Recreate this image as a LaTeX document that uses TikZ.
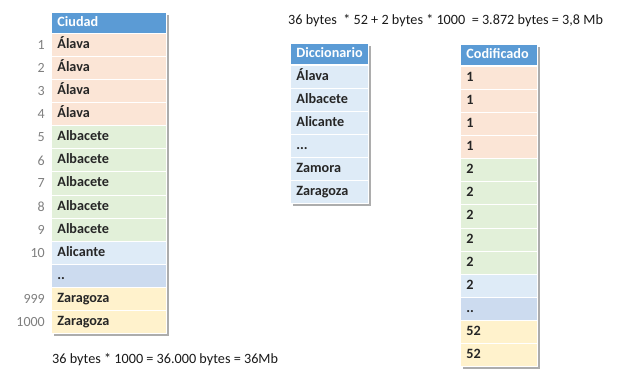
\documentclass[tikz,border=0pt]{standalone}
\usepackage{fontspec}
\setmainfont{Carlito}
\usetikzlibrary{positioning}

\definecolor{hdrblue}{HTML}{5B9BD5}
\definecolor{rowora}{HTML}{FBE5D6}
\definecolor{rowgrn}{HTML}{E2F0D9}
\definecolor{rowblu}{HTML}{DEEBF7}
\definecolor{rowdots}{HTML}{CCDBEF}
\definecolor{rowyel}{HTML}{FFF2CC}
\definecolor{numgray}{HTML}{7F7F7F}
\definecolor{shadegray}{HTML}{ADADAD}

\newcommand{\skipdots}{...}

\tikzset{
  cell/.style={draw=white, line width=0.8pt, anchor=north west, minimum height=23.08pt,
    inner ysep=0pt, inner xsep=6pt, align=left, text height=10pt, text depth=3pt,
    font=\fontsize{14.2}{17}\selectfont\bfseries, text=black!85},
  hdr/.style={cell, fill=hdrblue, text=white, minimum height=21pt},
  rownum/.style={anchor=east, inner sep=0pt, text=numgray, font=\fontsize{14}{17}\selectfont},
  sumtext/.style={anchor=west, inner sep=0pt, font=\fontsize{14.2}{17}\selectfont, text=black!90},
}

\begin{document}
\begin{tikzpicture}[x=1pt,y=-1pt]
\useasboundingbox (0,0) rectangle (621,385);

% Shadows behind the tables
\fill[shadegray] (54,15) rectangle (169,336);
\fill[shadegray] (293,46) rectangle (371,206);
\fill[shadegray] (463,47) rectangle (540,369);

% Ciudad table with row numbers
\node[hdr, text width=103pt] (ciudad) at (51,12) {Ciudad};
\foreach \txt/\col/\num [count=\i] in {
  Álava/rowora/1, Álava/rowora/2, Álava/rowora/3, Álava/rowora/4,
  Albacete/rowgrn/5, Albacete/rowgrn/6, Albacete/rowgrn/7, Albacete/rowgrn/8, Albacete/rowgrn/9,
  Alicante/rowblu/10, ../rowdots/{}, Zaragoza/rowyel/999, Zaragoza/rowyel/1000}{
  \node[cell, fill=\col, text width=103pt] (city\i) at (51,{33+(\i-1)*23.08}) {\txt};
  \node[rownum, left=6pt of city\i] (num\i) {\num};
}

% Diccionario table
\node[hdr, text width=66pt] (dicc) at (290,43) {Diccionario};
\foreach \txt [count=\i] in {Álava, Albacete, Alicante, \skipdots, Zamora, Zaragoza}{
  \node[cell, fill=rowblu, text width=66pt] (dict\i) at (290,{65+(\i-1)*23}) {\txt};
}

% Codificado table
\node[hdr, text width=65pt] (codif) at (460,44) {Codificado};
\foreach \txt/\col [count=\i] in {
  1/rowora, 1/rowora, 1/rowora, 1/rowora,
  2/rowgrn, 2/rowgrn, 2/rowgrn, 2/rowgrn, 2/rowgrn,
  2/rowblu, ../rowdots, 52/rowyel, 52/rowyel}{
  \node[cell, fill=\col, text width=65pt] (code\i) at (460,{66+(\i-1)*23.08}) {\txt};
}

% Size sums
\node[sumtext] (sumcoded) at (288,21) {36 bytes\ \ * 52 + 2 bytes * 1000\ \ = 3.872 bytes = 3,8 Mb};
\node[sumtext] (sumplain) at (52,360) {36 bytes * 1000 = 36.000 bytes = 36Mb};

\end{tikzpicture}
\end{document}
